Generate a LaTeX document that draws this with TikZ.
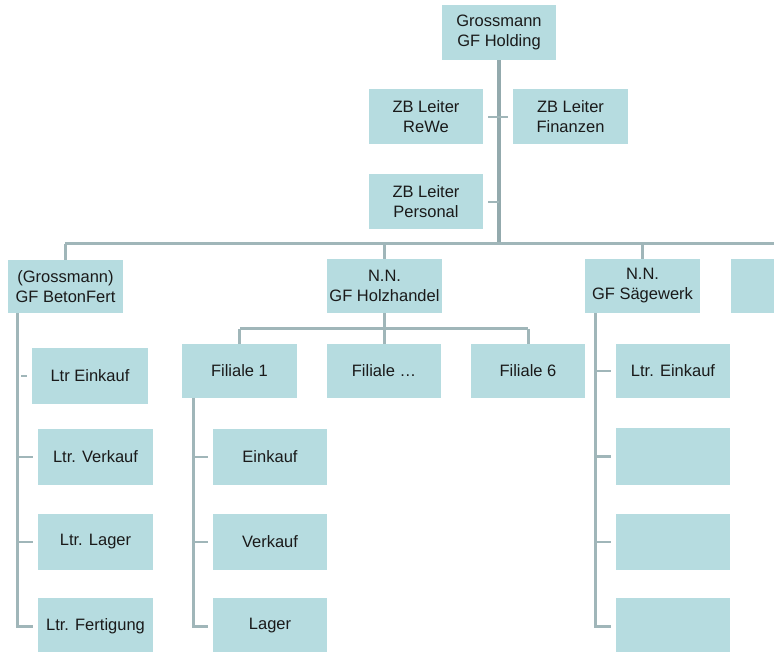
\documentclass[tikz,border=0pt]{standalone}
\usepackage{fontspec}
\setmainfont{Liberation Sans}
\definecolor{boxc}{HTML}{B6DCE0}
\definecolor{linec}{HTML}{A0B6B9}
\definecolor{mainc}{HTML}{93AAAD}
\definecolor{txtc}{HTML}{1A1A1A}
\tikzset{
  orgbox/.style={rectangle, fill=boxc, draw=none, inner sep=0pt,
    minimum width=114pt, minimum height=55pt, align=center, text=txtc,
    font=\fontsize{16.5}{20}\selectfont},
  mainline/.style={draw=mainc, line width=4pt},
  conline/.style={draw=linec, line width=3pt},
  tickline/.style={draw=linec, line width=2.5pt},
}
\begin{document}
\begin{tikzpicture}[x=1pt,y=-1pt]
\useasboundingbox (0,0) rectangle (774,652);
\clip (0,0) rectangle (774,652);
% top level
\node[orgbox] (hold) at (499,32.5) {Grossmann\\GF Holding};
\node[orgbox] (rewe) at (426,117) {ZB Leiter\\ReWe};
\node[orgbox, minimum width=115pt] (fin) at (570.5,117) {ZB Leiter\\Finanzen};
\node[orgbox] (pers) at (426,202) {ZB Leiter\\Personal};
% second level
\node[orgbox, minimum width=115pt, minimum height=53pt] (beton) at (65.5,286.5) {(Grossmann)\\GF BetonFert};
\node[orgbox, minimum width=115pt, minimum height=54pt] (holz) at (384.5,286) {N.N.\\GF Holzhandel};
\node[orgbox, minimum width=115pt, minimum height=54pt] (saeg) at (642.5,286) {N.N.\\GF Sägewerk};
\node[orgbox, minimum width=115pt, minimum height=54pt] (part) at (788.5,286) {};
% left column
\node[orgbox, minimum width=116pt, minimum height=56pt] (le1) at (90,376) {Ltr Einkauf};
\node[orgbox, minimum width=115pt, minimum height=56pt] (le2) at (95.5,457) {Ltr. Verkauf};
\node[orgbox, minimum width=115pt, minimum height=56pt] (le3) at (95.5,542) {Ltr. Lager};
\node[orgbox, minimum width=115pt, minimum height=56pt] (le4) at (95.5,626) {Ltr. Fertigung};
% Filialen
\node[orgbox, minimum width=115pt, minimum height=54pt] (fil1) at (239.5,371) {Filiale 1};
\node[orgbox, minimum width=114pt, minimum height=54pt] (fil2) at (384,371) {Filiale \dots};
\node[orgbox, minimum width=114pt, minimum height=54pt] (fil6) at (528,371) {Filiale 6};
\node[orgbox, minimum height=56pt] (m1) at (270,457) {Einkauf};
\node[orgbox, minimum height=56pt] (m2) at (270,542) {Verkauf};
\node[orgbox, minimum height=56pt] (m3) at (270,626) {Lager};
% right column
\node[orgbox, minimum height=54pt] (r0) at (673,371) {Ltr. Einkauf};
\node[orgbox, minimum height=57pt] (r1) at (673,456.5) {};
\node[orgbox, minimum height=56pt] (r2) at (673,542) {};
\node[orgbox, minimum height=56pt] (r3) at (673,626) {};
% coordinates
\coordinate (hL) at (65,244);
\coordinate (hR) at (800,244);
\coordinate (fL) at (240,329);
\coordinate (fR) at (528,329);
\coordinate (lv) at (17,0);
\coordinate (mv) at (193,0);
\coordinate (rv) at (595,0);
% main trunk
\draw[mainline] (hold.south) -- (hold.south |- hL);
\draw[tickline] ([xshift=5pt]rewe.east) -- ([xshift=-5pt]fin.west);
\draw[tickline] ([xshift=5pt]pers.east) -- (pers.east -| hold.south);
\draw[conline] (hL) -- (hR);
\draw[conline] (beton.north |- hL) -- (beton.north);
\draw[conline] (holz.north |- hL) -- (holz.north);
\draw[conline] (saeg.north |- hL) -- (saeg.north);
\draw[conline] (part.north |- hL) -- (part.north);
% left column
\draw[conline] (beton.south -| lv) -- (le4.west -| lv) -- ([xshift=-5pt]le4.west);
\draw[tickline] ([xshift=4pt]le1.west -| lv) -- ([xshift=-5pt]le1.west);
\draw[tickline] (le2.west -| lv) -- ([xshift=-5pt]le2.west);
\draw[tickline] (le3.west -| lv) -- ([xshift=-5pt]le3.west);
% Holzhandel
\draw[conline] (holz.south) -- (holz.south |- fL);
\draw[conline] (fL) -- (fR);
\draw[conline] (fil1.north |- fL) -- (fil1.north);
\draw[conline] (fil2.north |- fL) -- (fil2.north);
\draw[conline] (fil6.north |- fL) -- (fil6.north);
\draw[conline] (fil1.south -| mv) -- (m3.west -| mv) -- ([xshift=-5pt]m3.west);
\draw[tickline] (m1.west -| mv) -- ([xshift=-5pt]m1.west);
\draw[tickline] (m2.west -| mv) -- ([xshift=-5pt]m2.west);
% Saegewerk
\draw[conline] (saeg.south -| rv) -- (r3.west -| rv) -- ([xshift=-5pt]r3.west);
\draw[tickline] (r0.west -| rv) -- ([xshift=-5pt]r0.west);
\draw[tickline] (r1.west -| rv) -- ([xshift=-5pt]r1.west);
\draw[tickline] (r2.west -| rv) -- ([xshift=-5pt]r2.west);
\end{tikzpicture}
\end{document}
